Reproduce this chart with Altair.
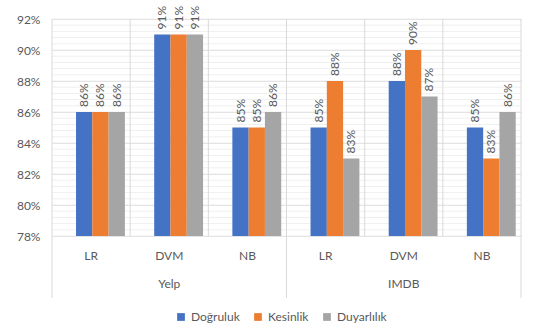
import altair as alt
import pandas as pd
import numpy as np

datasets = ["Yelp", "Yelp", "Yelp", "IMDB", "IMDB", "IMDB"]
models = ["LR", "DVM", "NB", "LR", "DVM", "NB"]
series = ["Doğruluk", "Kesinlik", "Duyarlılık"]
dogruluk = [86, 91, 85, 85, 88, 85]
kesinlik = [86, 91, 85, 88, 90, 83]
duyarlilik = [86, 91, 86, 83, 87, 86]
colors = ["#4472C4", "#ED7D31", "#A5A5A5"]
y_ticks = [78, 80, 82, 84, 86, 88, 90, 92]

cats = [f"{d}|{m}" for d, m in zip(datasets, models)]
rows = []
for i, c in enumerate(cats):
    for s, vals in zip(series, [dogruluk, kesinlik, duyarlilik]):
        rows.append({"cat": c, "series": s, "value": vals[i]})
df = pd.DataFrame(rows)

W, H = 469, 217
FONT = "Lato"
TXT = "#595959"

xscale = alt.Scale(domain=cats, paddingInner=0, paddingOuter=0)
yscale = alt.Scale(domain=[78, 92], nice=False, zero=False)
offscale = alt.Scale(paddingInner=0, paddingOuter=0.9, align=0.82)

yaxis = alt.Axis(values=y_ticks, labelExpr="datum.value + '%'", domain=False,
                 ticks=False, gridColor="#d9d9d9", labelFont=FONT,
                 labelFontSize=12, labelColor=TXT, labelPadding=12, title=None)
xaxis = alt.Axis(labelExpr="split(datum.label, '|')[1]", labelAngle=0, labelAlign="center",
                 bandPosition=0.5, ticks=False, domain=True, domainColor="#d9d9d9",
                 labelFont=FONT, labelFontSize=12, labelColor=TXT,
                 labelPadding=14, grid=False, title=None)

minor = pd.DataFrame({"v": np.arange(78, 92.01, 0.4)})
minor_rules = alt.Chart(minor).mark_rule(color="#efefef", strokeWidth=1).encode(
    y=alt.Y("v:Q", scale=yscale, axis=yaxis)
)

bars = alt.Chart(df).mark_bar().encode(
    x=alt.X("cat:N", scale=xscale, sort=cats, axis=xaxis),
    xOffset=alt.XOffset("series:N", sort=series, scale=offscale),
    y=alt.Y("value:Q", scale=yscale, axis=yaxis),
    y2=alt.datum(78),
    color=alt.Color("series:N", sort=series,
                    scale=alt.Scale(domain=series, range=colors),
                    legend=alt.Legend(title=None, orient="none", direction="horizontal",
                                      legendX=123, legendY=292, symbolType="square",
                                      symbolSize=60, labelFont=FONT, labelFontSize=12,
                                      labelColor=TXT, columnPadding=12, symbolStrokeWidth=0)),
)

labels = alt.Chart(df).mark_text(angle=270, align="left", baseline="middle", dx=5,
                                 font=FONT, fontSize=12, color=TXT).encode(
    x=alt.X("cat:N", scale=xscale, sort=cats, axis=xaxis),
    xOffset=alt.XOffset("series:N", sort=series, scale=offscale),
    y=alt.Y("value:Q", scale=yscale, axis=yaxis),
    text=alt.Text("lbl:N"),
).transform_calculate(lbl="datum.value + '%'")

grid_df = pd.DataFrame({"cat": cats})
vgrid = alt.Chart(grid_df).mark_rule(color="#d9d9d9").encode(
    x=alt.X("cat:N", scale=xscale, sort=cats, bandPosition=0, axis=xaxis),
    y=alt.value(0), y2=alt.value(H),
)
vgrid_end = alt.Chart(pd.DataFrame({"cat": [cats[-1]]})).mark_rule(color="#d9d9d9").encode(
    x=alt.X("cat:N", scale=xscale, sort=cats, bandPosition=1, axis=xaxis),
    y=alt.value(0), y2=alt.value(H + 62),
)
sep_df = pd.DataFrame({"cat": [cats[0], cats[3]]})
seps = alt.Chart(sep_df).mark_rule(color="#d9d9d9").encode(
    x=alt.X("cat:N", scale=xscale, sort=cats, bandPosition=0, axis=xaxis),
    y=alt.value(H), y2=alt.value(H + 62),
)

ds_df = pd.DataFrame({"cat": [cats[1], cats[4]], "name": ["Yelp", "IMDB"]})
ds_text = alt.Chart(ds_df).mark_text(font=FONT, fontSize=12, color=TXT, baseline="middle").encode(
    x=alt.X("cat:N", scale=xscale, sort=cats, axis=xaxis),
    y=alt.value(H + 48),
    text="name:N",
)

chart = alt.layer(minor_rules, vgrid, vgrid_end, seps, bars, labels, ds_text).properties(
    width=W, height=H,
    autosize=alt.AutoSizeParams(type="none"),
    padding={"left": 52, "top": 19, "right": 28, "bottom": 97},
    background="white",
).configure_view(stroke=None)

chart.save("out.html", embed_options={"renderer": "svg", "actions": False})
